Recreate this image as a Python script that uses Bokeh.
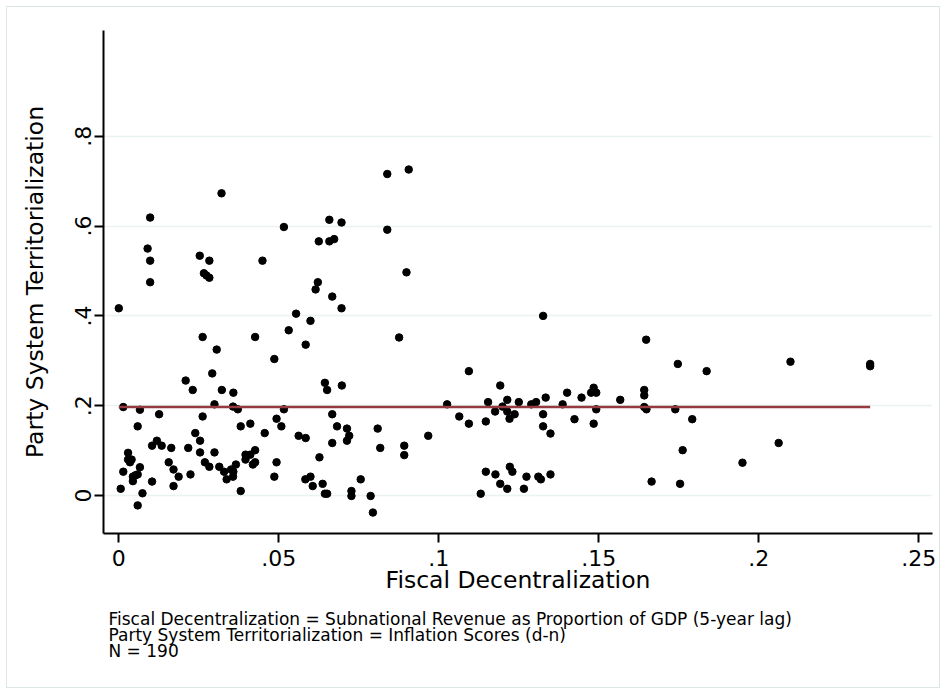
from bokeh.plotting import figure
from bokeh.models import Range1d, FixedTicker, ColumnDataSource, Title
from bokeh.embed import file_html
from bokeh.resources import INLINE

# ---- data (x: fiscal decentralization, y: territorialization)
fiscal_decentralization = [
    0.0321, 0.0098, 0.0516, 0.0625, 0.0090, 0.0098, 0.0253, 0.0283, 0.0449,
    0.0266, 0.0274, 0.0283, 0.0098, 0.0622, 0.0615, 0.0000, 0.0839, 0.0906,
    0.0658, 0.0696, 0.0839, 0.0658, 0.0673, 0.0899, 0.0667, 0.0696,
    0.0014, 0.0066, 0.0059, 0.0126, 0.0104, 0.0119, 0.0134, 0.0029, 0.0029,
    0.0035, 0.0040, 0.0014, 0.0006, 0.0044, 0.0052, 0.0059, 0.0044, 0.0066,
    0.0059, 0.0074, 0.0104, 0.0164, 0.0156, 0.0171, 0.0187, 0.0171, 0.0209,
    0.0231, 0.0262, 0.0306, 0.0292, 0.0322, 0.0299, 0.0358, 0.0357, 0.0372,
    0.0262, 0.0239, 0.0254, 0.0217, 0.0254, 0.0269, 0.0283, 0.0299, 0.0224,
    0.0314, 0.0329, 0.0337, 0.0351, 0.0358, 0.0366, 0.0357, 0.0381, 0.0381,
    0.0411, 0.0396, 0.0411, 0.0396, 0.0426, 0.0419, 0.0426, 0.0426, 0.0456,
    0.0486, 0.0493, 0.0508, 0.0516, 0.0493, 0.0486, 0.0531, 0.0554, 0.0584,
    0.0599, 0.0562, 0.0584, 0.0583, 0.0599, 0.0606, 0.0627,
    0.0644, 0.0651, 0.0697, 0.0667, 0.0682, 0.0713, 0.0720, 0.0713, 0.0667,
    0.0637, 0.0644, 0.0651, 0.0727, 0.0727, 0.0756, 0.0787, 0.0794, 0.0809,
    0.0817, 0.0876, 0.0892, 0.0892, 0.0967, 0.1026, 0.1064, 0.1094, 0.1094,
    0.1131, 0.1147, 0.1147, 0.1154, 0.1176, 0.1177, 0.1192, 0.1192, 0.1199,
    0.1214, 0.1214, 0.1221, 0.1214, 0.1222, 0.1230, 0.1237, 0.1250,
    0.1326, 0.1266, 0.1274, 0.1289, 0.1304, 0.1326, 0.1326, 0.1334, 0.1349,
    0.1311, 0.1319, 0.1349, 0.1387, 0.1401, 0.1424, 0.1446, 0.1476, 0.1484,
    0.1492, 0.1484, 0.1492, 0.1567, 0.1642, 0.1642, 0.1648, 0.1642, 0.1649,
    0.1665, 0.1747, 0.1739, 0.1762, 0.1754, 0.1792, 0.1837,
    0.2099, 0.2348, 0.2348, 0.2062, 0.1949,
]
territorialization = [
    0.673, 0.619, 0.598, 0.566, 0.550, 0.523, 0.534, 0.523, 0.523,
    0.495, 0.490, 0.485, 0.475, 0.475, 0.459, 0.417, 0.716, 0.726,
    0.614, 0.608, 0.592, 0.566, 0.571, 0.497, 0.443, 0.417,
    0.197, 0.191, 0.154, 0.181, 0.111, 0.122, 0.111, 0.095, 0.080,
    0.074, 0.080, 0.053, 0.015, 0.042, 0.045, 0.047, 0.032, 0.063,
    -0.022, 0.005, 0.031, 0.106, 0.074, 0.058, 0.042, 0.021, 0.256,
    0.235, 0.353, 0.325, 0.272, 0.235, 0.203, 0.229, 0.198, 0.192,
    0.176, 0.139, 0.122, 0.106, 0.096, 0.074, 0.064, 0.096, 0.047,
    0.064, 0.053, 0.036, 0.058, 0.053, 0.069, 0.042, 0.010, 0.154,
    0.160, 0.091, 0.091, 0.080, 0.101, 0.069, 0.074, 0.353, 0.139,
    0.304, 0.171, 0.154, 0.192, 0.074, 0.042, 0.368, 0.405, 0.336,
    0.389, 0.133, 0.128, 0.036, 0.042, 0.021, 0.085,
    0.251, 0.235, 0.245, 0.181, 0.154, 0.149, 0.133, 0.122, 0.117,
    0.026, 0.004, 0.004, 0.010, -0.001, 0.036, -0.001, -0.038, 0.149,
    0.106, 0.352, 0.111, 0.090, 0.133, 0.203, 0.176, 0.277, 0.160,
    0.004, 0.053, 0.165, 0.208, 0.187, 0.047, 0.245, 0.026, 0.198,
    0.213, 0.187, 0.171, 0.015, 0.064, 0.053, 0.181, 0.208,
    0.400, 0.015, 0.042, 0.203, 0.208, 0.181, 0.154, 0.218, 0.138,
    0.042, 0.036, 0.047, 0.203, 0.229, 0.170, 0.218, 0.229, 0.240,
    0.229, 0.160, 0.192, 0.213, 0.235, 0.223, 0.347, 0.197, 0.192,
    0.031, 0.293, 0.192, 0.101, 0.026, 0.170, 0.277,
    0.298, 0.293, 0.288, 0.117, 0.073,
]

# fitted line (flat)
fit_intercept = 0.197
fit_slope = 0.0

x_ticks = [0, 0.05, 0.1, 0.15, 0.2, 0.25]
x_tick_labels = ["0", ".05", ".1", ".15", ".2", ".25"]
y_ticks = [0, 0.2, 0.4, 0.6, 0.8]
y_tick_labels = ["0", ".2", ".4", ".6", ".8"]

x_title = "Fiscal Decentralization"
y_title = "Party System Territorialization"
notes = [
    "Fiscal Decentralization = Subnational Revenue as Proportion of GDP (5-year lag)",
    "Party System Territorialization = Inflation Scores (d-n)",
    "N = 190",
]

FONT = "DejaVu Sans"

p = figure(width=946, height=694, output_backend="svg", toolbar_location=None,
           x_range=Range1d(-0.00478, 0.25428), y_range=Range1d(-0.0846, 1.0356),
           min_border_left=103, min_border_right=14, min_border_top=30,
           min_border_bottom=161)
p.outline_line_color = None
# transparent canvas so the page-level outline of the graph region shows through
p.background_fill_color = None
p.border_fill_color = None
p.styles = {"background-color": "white", "outline": "1.5px solid #DDE6E6",
            "outline-offset": "-7px"}

p.xgrid.visible = False
p.ygrid.ticker = FixedTicker(ticks=y_ticks)
p.ygrid.grid_line_color = "#EAF2F3"
p.ygrid.grid_line_width = 1.5

p.xaxis.ticker = FixedTicker(ticks=x_ticks)
p.xaxis.major_label_overrides = {t: l for t, l in zip(x_ticks, x_tick_labels)}
p.yaxis.ticker = FixedTicker(ticks=y_ticks)
p.yaxis.major_label_overrides = {t: l for t, l in zip(y_ticks, y_tick_labels)}
p.yaxis.major_label_orientation = "vertical"
p.xaxis.axis_label = x_title
p.yaxis.axis_label = y_title

for ax in (p.xaxis[0], p.yaxis[0]):
    ax.axis_line_width = 2
    ax.axis_line_color = "black"
    ax.major_tick_line_width = 2
    ax.major_tick_line_color = "black"
    ax.major_tick_out = 9
    ax.major_tick_in = 0
    ax.minor_tick_line_color = None
    ax.major_label_text_font = FONT
    ax.major_label_text_font_size = "22px"
    ax.major_label_text_color = "black"
    ax.axis_label_text_font = FONT
    ax.axis_label_text_font_size = "23.5px"
    ax.axis_label_text_font_style = "normal"
    ax.axis_label_text_color = "black"

p.xaxis.major_label_standoff = 7
p.xaxis.axis_label_standoff = -3
p.yaxis.major_label_standoff = 3
p.yaxis.axis_label_standoff = 24

src = ColumnDataSource(dict(x=fiscal_decentralization, y=territorialization))
p.scatter("x", "y", source=src, size=7.5, color="black")

fx = [min(fiscal_decentralization), max(fiscal_decentralization)]
fy = [fit_intercept + fit_slope * v for v in fx]
p.line(fx, fy, line_color="#953A40", line_width=2.5)

# gap between the axis title and the note block
p.add_layout(Title(text=" ", text_font=FONT, text_font_size="17.5px",
                   standoff=-9), "below")
# footnote lines, stacked tightly (Stata-style note)
for t in notes:
    p.add_layout(Title(text=t, align="left", offset=5, text_font=FONT,
                       text_font_size="17px", text_font_style="normal",
                       text_color="black", standoff=-6), "below")

open("out.html", "w").write(file_html(p, INLINE))
